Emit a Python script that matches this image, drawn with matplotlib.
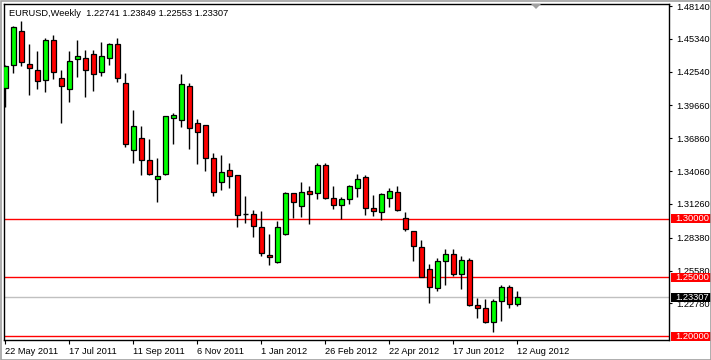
import matplotlib
matplotlib.use("Agg")
import matplotlib.pyplot as plt
from matplotlib.patches import Rectangle, Polygon
import pandas as pd
import numpy as np

# ---------------- data ----------------
start_date = "2011-05-22"
opens = [1.4112, 1.4308, 1.4598, 1.4317, 1.4266, 1.4180, 1.4522, 1.4198, 1.4104, 1.4365,
         1.4368, 1.4402, 1.4249, 1.4368, 1.4490, 1.4155, 1.3584, 1.3686, 1.3498, 1.3336,
         1.3379, 1.3856, 1.3839, 1.4129, 1.3814, 1.3797, 1.3515, 1.3309, 1.3413, 1.3370,
         1.3038, 1.3043, 1.2927, 1.2688, 1.2628, 1.2867, 1.3217, 1.3111, 1.3234, 1.3217,
         1.3456, 1.3174, 1.3115, 1.3166, 1.3260, 1.3353, 1.3089, 1.3055, 1.3174, 1.3225,
         1.3004, 1.2893, 1.2756, 1.2569, 1.2407, 1.2637, 1.2697, 1.2526, 1.2646, 1.2262,
         1.2236, 1.2117, 1.2296, 1.2415, 1.22741]
highs = [1.4310, 1.4640, 1.4686, 1.4490, 1.4430, 1.4539, 1.4569, 1.4266, 1.4430, 1.4522,
         1.4439, 1.4439, 1.4507, 1.4495, 1.4539, 1.4243, 1.3927, 1.3788, 1.3680, 1.3515,
         1.3879, 1.3899, 1.4234, 1.4155, 1.3848, 1.3800, 1.3558, 1.3543, 1.3475, 1.3373,
         1.3194, 1.3072, 1.3063, 1.2870, 1.2978, 1.3228, 1.3220, 1.3311, 1.3277, 1.3473,
         1.3473, 1.3277, 1.3185, 1.3285, 1.3379, 1.3370, 1.3200, 1.3217, 1.3260, 1.3277,
         1.3055, 1.2895, 1.2816, 1.2614, 1.2663, 1.2739, 1.2739, 1.2680, 1.2663, 1.2322,
         1.2313, 1.2313, 1.2432, 1.2432, 1.23849]
lows = [1.3955, 1.4245, 1.4305, 1.4055, 1.4106, 1.4083, 1.4194, 1.3819, 1.3998, 1.4211,
        1.4041, 1.4092, 1.4220, 1.4313, 1.4169, 1.3614, 1.3478, 1.3375, 1.3373, 1.3140,
        1.3373, 1.3637, 1.3785, 1.3595, 1.3469, 1.3410, 1.3191, 1.3245, 1.3265, 1.2932,
        1.2966, 1.2847, 1.2685, 1.2608, 1.2620, 1.2865, 1.3009, 1.3017, 1.2958, 1.3171,
        1.3172, 1.3086, 1.2995, 1.3123, 1.3183, 1.3029, 1.3021, 1.2987, 1.3097, 1.3070,
        1.2893, 1.2637, 1.2499, 1.2279, 1.2381, 1.2432, 1.2509, 1.2398, 1.2253, 1.2151,
        1.2108, 1.2032, 1.2125, 1.2236, 1.22553]
closes = [1.4302, 1.4638, 1.4334, 1.4288, 1.4172, 1.4522, 1.4249, 1.4134, 1.4342, 1.4385,
          1.4266, 1.4232, 1.4385, 1.4490, 1.4198, 1.3635, 1.3788, 1.3498, 1.3379, 1.3362,
          1.3873, 1.3882, 1.4146, 1.3771, 1.3737, 1.3515, 1.3225, 1.3396, 1.3367, 1.3029,
          1.3038, 1.2935, 1.2705, 1.2671, 1.2927, 1.3217, 1.3145, 1.3225, 1.3213, 1.3456,
          1.3174, 1.3115, 1.3166, 1.3277, 1.3336, 1.3089, 1.3063, 1.3208, 1.3234, 1.3072,
          1.2910, 1.2765, 1.2506, 1.2415, 1.2637, 1.2697, 1.2526, 1.2646, 1.2262, 1.2236,
          1.2117, 1.2296, 1.2415, 1.2270, 1.23307]

hlines = [1.30, 1.25, 1.20]
bid = 1.23307
ytick_vals = [1.48140, 1.45340, 1.42540, 1.39660, 1.36860, 1.34060,
              1.31260, 1.28380, 1.25580, 1.22780]
title = "EURUSD,Weekly  1.22741 1.23849 1.22553 1.23307"

# ---------------- figure ----------------
W, H = 711, 360
fig = plt.figure(figsize=(W / 100, H / 100), dpi=100)
fig.patch.set_facecolor("white")
FONT = "Liberation Sans"
FS = 6.7

ax_l, ax_r, ax_t, ax_b = 4, 669, 4, 340
ax = fig.add_axes([ax_l / W, 1 - ax_b / H, (ax_r - ax_l) / W, (ax_b - ax_t) / H])
ax.set_facecolor("white")

n = len(opens)
dates = pd.date_range(start_date, periods=n, freq="7D")
x = np.arange(n)
px_per_bar = 8.0
x0 = -(5.3 - ax_l) / px_per_bar
ax.set_xlim(x0, x0 + (ax_r - ax_l) / px_per_bar)
ax.set_ylim(1.19659, 1.48311)

# horizontal lines
for lv in hlines:
    ax.axhline(lv, color="#ff0000", lw=1.0, zorder=1)
ax.axhline(bid, color="#c0c0c0", lw=1.0, zorder=1)

# candles
bw = 0.6
for i in x:
    o, h, l, c = opens[i], highs[i], lows[i], closes[i]
    ax.vlines(i, l, h, color="black", lw=1.0, zorder=2)
    lo, hi = min(o, c), max(o, c)
    if abs(c - o) < 1e-9:
        ax.hlines(o, i - bw / 2, i + bw / 2, color="black", lw=1.0, zorder=3)
    else:
        col = "#00ff00" if c > o else "#ff0000"
        ax.add_patch(Rectangle((i - bw / 2, lo), bw, hi - lo, facecolor=col,
                               edgecolor="black", lw=0.9, zorder=3))

# axes styling
for s in ["left", "top", "bottom", "right"]:
    ax.spines[s].set_color("black")
    ax.spines[s].set_linewidth(1.0)

ax.yaxis.tick_right()
ax.set_yticks(ytick_vals)
ax.set_yticklabels([f"{v:.5f}" for v in ytick_vals], fontsize=FS, family=FONT)
ax.tick_params(axis="y", direction="out", length=2.5, width=0.8, pad=2.5, colors="black")

xt = x[::8]
ax.set_xticks(xt)
ax.set_xticklabels([f"{d.day} {d.strftime('%b %Y')}" for d in dates[::8]],
                   fontsize=FS, family=FONT, ha="left")
ax.tick_params(axis="x", direction="out", length=3, width=0.8, pad=2)

# title text
ax.text((9 - ax_l) / (ax_r - ax_l), 1 - (13 - ax_t) / (ax_b - ax_t),
        title, transform=ax.transAxes, fontsize=FS, family=FONT, va="center", ha="left",
        color="black")

# price boxes on right axis
def ypix(v):
    y0, y1 = ax.get_ylim()
    return ax_b - (v - y0) / (y1 - y0) * (ax_b - ax_t)

def box(v, fc):
    yp = ypix(v)
    bh = 9
    fig.patches.append(Rectangle((671 / W, 1 - (yp + bh / 2) / H), 40 / W, bh / H,
                                 transform=fig.transFigure, facecolor=fc,
                                 edgecolor="none", zorder=5))
    fig.text(675 / W, 1 - yp / H, f"{v:.5f}", color="white", fontsize=FS, family=FONT,
             va="center", ha="left", zorder=6)

for lv in hlines:
    box(lv, "#ff0000")
box(bid, "#000000")

# shift marker triangle
fig.patches.append(Polygon([(531 / W, 1 - 4 / H), (541 / W, 1 - 4 / H), (536 / W, 1 - 9 / H)],
                           closed=True, transform=fig.transFigure, facecolor="#a0a0a0",
                           edgecolor="none", zorder=5))

# outer frame
fig.patches.append(Rectangle((0.5 / W, 0.5 / H), (W - 1) / W, (H - 1) / H,
                             transform=fig.transFigure, facecolor="none",
                             edgecolor="#a0a0a0", lw=1.2, zorder=7))

fig.savefig("out.png", dpi=100, facecolor="white")
